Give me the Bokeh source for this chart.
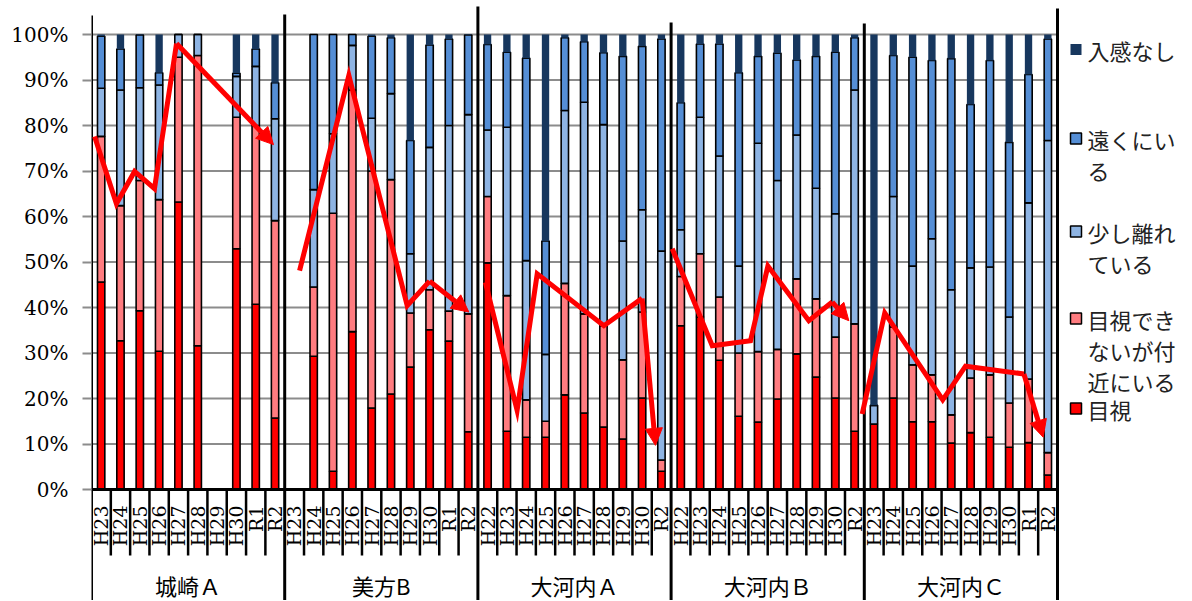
import numpy as np
from bokeh.plotting import figure
from bokeh.models import ColumnDataSource, Range1d, FixedTicker, NumeralTickFormatter, Arrow, NormalHead
from bokeh.core.properties import value
from bokeh.embed import file_html
from bokeh.resources import INLINE

# ---------------- data ----------------
groups = ["城崎Ａ", "美方B", "大河内Ａ", "大河内Ｂ", "大河内Ｃ"]
years_kinosaki = ["H23", "H24", "H25", "H26", "H27", "H28", "H29", "H30", "R1", "R2"]
years_mikata = ["H23", "H24", "H25", "H26", "H27", "H28", "H29", "H30", "R1", "R2"]
years_okochi_a = ["H22", "H23", "H24", "H25", "H26", "H27", "H28", "H29", "H30", "R2"]
years_okochi_b = ["H22", "H23", "H24", "H25", "H26", "H27", "H28", "H29", "H30", "R2"]
years_okochi_c = ["H23", "H24", "H25", "H26", "H27", "H28", "H29", "H30", "R1", "R2"]

series = ["目視", "目視できないが付近にいる", "少し離れている", "遠くにいる", "入感なし"]

# percent values, group by group
mokushi = [45.6, 32.7, 39.3, 30.4, 63.2, 31.6, 0, 52.9, 40.7, 15.7,
           0, 29.3, 4.0, 34.7, 17.9, 21.0, 26.9, 35.1, 32.6, 12.7,
           49.8, 12.8, 11.5, 11.5, 20.8, 16.8, 13.7, 11.1, 20.1, 4.0,
           36.0, 37.9, 28.4, 16.1, 14.8, 19.9, 29.8, 24.7, 20.1, 12.8,
           14.4, 20.1, 14.9, 14.9, 10.2, 12.5, 11.5, 9.3, 10.3, 3.2]
fukin = [32.0, 29.7, 28.6, 33.3, 31.8, 63.8, 0, 28.9, 39.3, 43.4,
         0, 15.2, 56.7, 53.1, 52.1, 47.1, 11.9, 8.8, 6.6, 25.9,
         14.6, 29.8, 8.2, 3.5, 24.5, 21.8, 22.3, 17.4, 18.9, 2.5,
         10.8, 13.9, 13.9, 13.9, 15.5, 10.9, 16.5, 17.2, 13.4, 23.6,
         0, 15.6, 12.5, 10.3, 6.2, 12.0, 13.7, 9.7, 14.0, 4.9]
sukoshi = [10.6, 25.4, 20.4, 25.2, 5.0, 4.6, 0, 9.0, 13.0, 22.4,
           0, 21.4, 17.5, 9.8, 11.6, 18.9, 13.0, 31.3, 40.8, 43.8,
           14.6, 37.0, 30.6, 14.7, 38.0, 46.5, 44.2, 26.1, 22.5, 45.9,
           10.3, 30.0, 31.0, 19.1, 45.8, 37.1, 31.6, 24.3, 27.1, 51.4,
           4.1, 28.7, 21.7, 29.9, 27.5, 24.2, 23.7, 18.9, 38.7, 68.6]
tooku = [11.4, 9.0, 11.6, 2.7, 0, 0, 0, 0.7, 3.8, 7.9,
         0, 34.1, 21.8, 2.4, 18.0, 12.3, 24.9, 22.5, 19.0, 17.5,
         18.8, 16.5, 44.5, 24.9, 16.0, 13.3, 15.8, 40.6, 35.9, 46.6,
         27.9, 16.1, 24.6, 42.5, 19.1, 28.0, 16.5, 29.0, 35.5, 11.5,
         0, 31.0, 45.9, 39.2, 50.8, 35.9, 45.4, 38.4, 28.2, 22.3]
nyukan_nashi = [0.4, 3.2, 0.1, 8.4, 0, 0, 0, 8.5, 3.2, 10.6,
                0, 0, 0, 0, 0.4, 0.7, 23.3, 2.3, 1.0, 0.1,
                2.2, 3.9, 5.2, 45.4, 0.7, 1.6, 4.0, 4.8, 2.6, 1.0,
                15.0, 2.1, 2.1, 8.4, 4.8, 4.1, 5.6, 4.8, 3.9, 0.7,
                81.5, 4.6, 5.0, 5.7, 5.3, 15.4, 5.7, 23.7, 8.8, 1.0]

# hand-drawn trend arrows (x in category slots, y in percent)
trend_kinosaki_x = [0.16, 1.29, 2.23, 3.26, 4.40, 9.42]
trend_kinosaki_y = [77.6, 62.8, 69.9, 66.1, 98.0, 75.8]
trend_mikata_x = [10.77, 13.32, 16.34, 17.50, 19.53]
trend_mikata_y = [48.1, 91.0, 40.4, 45.8, 39.0]
trend_okochi_a_x = [20.39, 22.03, 23.07, 26.52, 28.50, 29.19]
trend_okochi_a_y = [45.5, 17.4, 47.4, 36.0, 42.0, 9.7]
trend_okochi_b_x = [30.06, 32.13, 34.11, 35.01, 37.13, 38.34, 39.20]
trend_okochi_b_y = [52.9, 31.6, 32.7, 49.1, 37.1, 41.2, 37.1]
trend_okochi_c_x = [39.89, 41.06, 44.06, 45.24, 48.26, 49.26]
trend_okochi_c_y = [16.6, 38.8, 19.7, 27.1, 25.4, 11.5]

colors = ["#FF0000", "#FF7C80", "#8EB4E3", "#558ED5", "#17375E"]
legend_lines = {
    "入感なし": ["入感なし"],
    "遠くにいる": ["遠くにい", "る"],
    "少し離れている": ["少し離れ", "ている"],
    "目視できないが付近にいる": ["目視でき", "ないが付", "近にいる"],
    "目視": ["目視"],
}

# ---------------- geometry (page pixels) ----------------
SLOT = 19.32          # px per category slot
PCT = 455.0           # px per 100 %
AX_Y = 489.0          # page y of the 0 % line
FR_L, FR_T, FR_W, FR_H = 91, 0, 1100, 600


def ypx(py):
    return (AX_Y - py) / PCT


def xpx(px):
    return (px - FR_L) / SLOT


all_years = years_kinosaki + years_mikata + years_okochi_a + years_okochi_b + years_okochi_c
n = len(all_years)
xs = np.arange(n) + 0.5
per_group = n // len(groups)

p = figure(frame_width=FR_W, frame_height=FR_H,
           x_range=Range1d(0, FR_W / SLOT),
           y_range=Range1d(ypx(FR_T + FR_H), ypx(FR_T)),
           x_axis_location=None, y_axis_location="left",
           output_backend="svg", toolbar_location=None,
           min_border_left=FR_L, min_border_right=0, min_border_top=0, min_border_bottom=0,
           background_fill_color="white", border_fill_color="white")
p.outline_line_color = None
p.grid.visible = False

ticks = [i / 10 for i in range(11)]
ya = p.yaxis[0]
ya.ticker = FixedTicker(ticks=ticks, minor_ticks=[])
ya.formatter = NumeralTickFormatter(format="0%")
ya.axis_line_color = None
ya.major_tick_line_color = "#8c8c8c"
ya.major_tick_line_width = 2
ya.major_tick_out = 9
ya.major_tick_in = 0
ya.major_label_standoff = 14
ya.major_label_text_font = "DejaVu Serif"
ya.major_label_text_font_size = "20px"
ya.major_label_text_color = "black"

# gridlines
gy = ticks[1:]
p.segment(x0=[0] * len(gy), x1=[n] * len(gy), y0=gy, y1=gy, line_color="#8c8c8c", line_width=2)

# stacked bars
src = ColumnDataSource(dict(
    x=xs,
    **{series[0]: np.array(mokushi) / 100,
       series[1]: np.array(fukin) / 100,
       series[2]: np.array(sukoshi) / 100,
       series[3]: np.array(tooku) / 100,
       series[4]: np.array(nyukan_nashi) / 100}))
p.vbar_stack(series, x="x", width=0.38, source=src,
             fill_color=colors, line_color=["black", "black", "black", "black", None],
             line_width=1.6)

# x axis line and separators
p.segment(x0=[0], x1=[n], y0=[0], y1=[0], line_color="black", line_width=3)
inner = [k for k in range(1, n) if k % per_group]
p.segment(x0=inner, x1=inner, y0=[0] * len(inner), y1=[ypx(555)] * len(inner),
          line_color="black", line_width=2.5)
bounds = list(range(0, n + 1, per_group))
bound_tops = [ypx(v) for v in [15, 14, 6, 22, 23, 8]]
p.segment(x0=bounds, x1=bounds, y0=bound_tops, y1=[ypx(FR_T + FR_H)] * len(bounds),
          line_color="black", line_width=3)

# category labels
p.text(x=xs, y=[ypx(505)] * n, text=all_years, angle=np.pi / 2,
       text_align="right", text_baseline="middle",
       text_font=value("DejaVu Serif"), text_font_size="19px", text_color="black")
gx = [per_group * (i + 0.5) for i in range(len(groups))]
p.text(x=gx, y=[ypx(584)] * len(groups), text=groups,
       text_align="center", text_baseline="middle",
       text_font=value("Noto Sans CJK JP"), text_font_size="22px", text_color="black")

# trend arrows
for tx, ty in [(trend_kinosaki_x, trend_kinosaki_y), (trend_mikata_x, trend_mikata_y),
               (trend_okochi_a_x, trend_okochi_a_y), (trend_okochi_b_x, trend_okochi_b_y),
               (trend_okochi_c_x, trend_okochi_c_y)]:
    yy = [v / 100 for v in ty]
    p.line(tx[:-1], yy[:-1], line_color="#FF0000", line_width=5, line_join="miter")
    p.add_layout(Arrow(end=NormalHead(size=17, fill_color="#FF0000", line_color="#FF0000", line_width=1),
                       x_start=tx[-2], y_start=yy[-2], x_end=tx[-1], y_end=yy[-1],
                       line_color="#FF0000", line_width=5))

# legend (manual, right side)
leg_order = ["入感なし", "遠くにいる", "少し離れている", "目視できないが付近にいる", "目視"]
leg_top = [49, 138, 231, 318, 408]
line_gap = 31
sq_x, sq_y, sq_c, sq_l = [], [], [], []
tx_x, tx_y, tx_t = [], [], []
for name, top in zip(leg_order, leg_top):
    i = series.index(name)
    sq_x.append(xpx(1075.5))
    sq_y.append(ypx(top))
    sq_c.append(colors[i])
    sq_l.append(None if name == "入感なし" else "black")
    for j, ln in enumerate(legend_lines[name]):
        tx_x.append(xpx(1087))
        tx_y.append(ypx(top + j * line_gap))
        tx_t.append(ln)
lsrc = ColumnDataSource(dict(x=sq_x, y=sq_y, c=sq_c, l=sq_l))
p.scatter(x="x", y="y", marker="square", size=11, fill_color="c", line_color="l", line_width=1.5, source=lsrc)
p.text(x=tx_x, y=tx_y, text=tx_t, text_align="left", text_baseline="middle",
       text_font=value("Noto Sans CJK JP"), text_font_size="22px", text_color="#222222")

open("out.html", "w").write(file_html(p, INLINE))
